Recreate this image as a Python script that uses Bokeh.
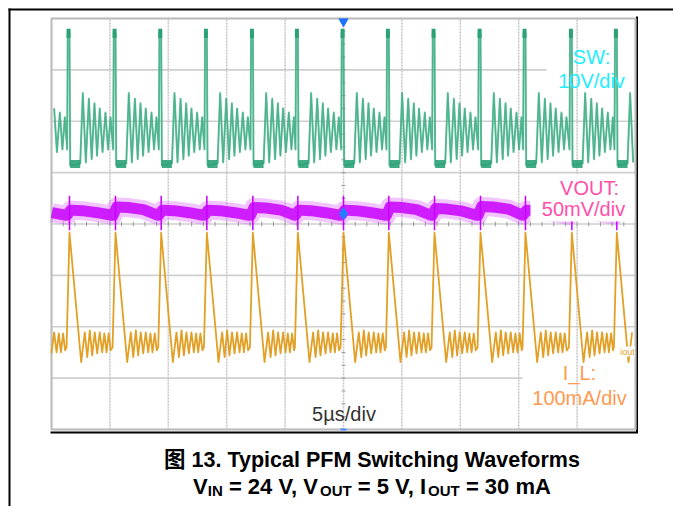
import numpy as np
from bokeh.plotting import figure
from bokeh.models import Range1d, Label
from bokeh.embed import file_html
from bokeh.resources import INLINE

# ---------------- data ----------------
# time of each SW switching pulse (µs, 0 = trigger / screen centre)
spike_times_us = [-23.66, -19.72, -15.81, -11.90, -7.96, -4.11, -0.20,
                  3.68, 7.59, 11.53, 15.38, 19.35, 23.20]
# SW (10 V/div) shape of one PFM cycle, relative to the pulse time
sw_dt = [0.00, 0.05, 0.20, 0.26, 1.12, 1.34, 1.60, 1.86, 2.10, 2.34,
         2.56, 2.79, 3.03, 3.28, 3.50, 3.71]
sw_div = [1.45, 3.72, 3.72, 1.14, 1.18, 2.55, 1.20, 2.44, 1.26, 2.35,
          1.33, 2.25, 1.40, 2.17, 1.45, 2.08]
sw_ground_div = 1.17
sw_top_div = [3.62, 3.80]
# I_L (100 mA/div) shape of one cycle
il_dt = [-0.05, 0.20, 1.20, 1.51, 1.72, 1.94, 2.14, 2.36, 2.57, 2.79,
         3.00, 3.19, 3.37, 3.56, 3.73]
il_div = [-2.40, -0.17, -2.69, -2.11, -2.59, -2.07, -2.56, -2.11, -2.52,
          -2.11, -2.50, -2.13, -2.50, -2.13, -2.46]
# VOUT (50 mV/div) ripple of one cycle (band centre)
vout_dt = [0.00, 0.30, 1.30, 2.60, 3.80]
vout_div = [0.17, 0.27, 0.26, 0.22, 0.17]
vout_bump_div = [0, 0, 0.06, 0, 0, 0.05, 0, 0, 0.06, 0.03, 0.07, 0, 0, 0]
vout_spike_div = [0.55, -0.12]
vout_marker_div = 0.20

time_ticks = list(range(-25, 26, 5))
div_ticks = list(range(-4, 5))
minor_time_ticks = list(range(-25, 26, 1))
minor_div_ticks = [v / 4 for v in range(-16, 17)]

labels_sw = ["SW:", "10V/div"]
labels_vout = ["VOUT:", "50mV/div"]
labels_il = ["I_L:", "100mA/div"]
time_label = "5µs/div"
caption1 = "图 13. Typical PFM Switching Waveforms"

# ---------------- layout helpers (page pixels -> data) ----------------
PX0, PX1 = 51, 635
PY0, PY1 = 18, 429


def X(px):
    return -25 + (px - PX0) * 50.0 / (PX1 - PX0)


def Y(py):
    return 4 - (py - PY0) * 8.0 / (PY1 - PY0)


T_END = X(633)

p = figure(width=673, height=506, output_backend="svg", toolbar_location=None,
           x_range=Range1d(X(0), X(673)), y_range=Range1d(Y(506), Y(0)),
           x_axis_location=None, y_axis_location=None, min_border=0,
           title=None)
p.grid.visible = False
p.outline_line_color = None
p.background_fill_color = "white"
p.border_fill_color = "white"

FONT = "Liberation Sans, Noto Sans CJK SC"

# outer page frame (top + left) and scope shadow (right + bottom)
p.segment(x0=[X(8), X(9)], y0=[Y(9), Y(8)], x1=[X(673), X(9)], y1=[Y(9), Y(506)],
          line_color="black", line_width=2)
p.segment(x0=[X(636.5), X(50)], y0=[Y(16), Y(432)], x1=[X(636.5), X(637.5)],
          y1=[Y(432), Y(432)], line_color="black", line_width=2)

# horizontal grid
p.segment(x0=[-25] * len(div_ticks), x1=[25] * len(div_ticks), y0=div_ticks,
          y1=div_ticks, line_color="#cfcfcf", line_width=1.6)
# white label boxes hiding grid
p.quad(left=[X(546), X(522)], right=[X(634), X(634)], top=[Y(38), Y(356)],
       bottom=[Y(100), Y(427)], fill_color="white", line_color=None)
# vertical grid (dotted)
p.segment(x0=time_ticks, x1=time_ticks, y0=[-4] * len(time_ticks),
          y1=[4] * len(time_ticks), line_color="#c8c8c8", line_width=1.6,
          line_dash="2 1")
# centre axes ticks
p.segment(x0=minor_time_ticks, x1=minor_time_ticks, y0=[-0.045] * len(minor_time_ticks),
          y1=[0.045] * len(minor_time_ticks), line_color="#9a9a9a", line_width=1)
p.segment(x0=[-0.17] * len(minor_div_ticks), x1=[0.17] * len(minor_div_ticks),
          y0=minor_div_ticks, y1=minor_div_ticks, line_color="#9a9a9a", line_width=1)
# screen border
p.quad(left=[-25], right=[25], bottom=[-4], top=[4], fill_color=None,
       line_color="#bdbdbd", line_width=2)

# ---------------- build traces from the per-cycle shapes ----------------
period = float(np.mean(np.diff(spike_times_us)))
starts = [spike_times_us[0] - period] + list(spike_times_us)


def build(dts, vals, bumps=None):
    xs, ys = [], []
    for k, s in enumerate(starts):
        for j, (dt, v) in enumerate(zip(dts, vals)):
            t = s + dt
            if bumps is not None and 0 < j < len(dts) - 1:
                v = v + bumps[k]
            if -25 <= t <= T_END:
                xs.append(t)
                ys.append(v)
    return xs, ys


sw_x, sw_y = build(sw_dt, sw_div)
il_x, il_y = build(il_dt, il_div)
vo_x, vo_y = build(vout_dt, vout_div, vout_bump_div)

# SW trace
p.line(sw_x, sw_y, line_color="#8fd3b6", line_width=1.2)
p.line(sw_x, sw_y, line_color="#2ea67a", line_width=2.0, line_alpha=0.7, line_join="round")
g0 = [s + sw_dt[3] for s in spike_times_us]
g1 = [min(s + sw_dt[4], T_END) for s in spike_times_us]
p.segment(x0=g0, x1=g1, y0=[sw_ground_div] * len(g0), y1=[sw_ground_div] * len(g0),
          line_color="#2ca278", line_width=8, line_alpha=0.9)
tx = [s + 0.12 for s in spike_times_us]
p.segment(x0=tx, x1=tx, y0=[sw_top_div[0]] * len(tx), y1=[sw_top_div[1]] * len(tx),
          line_color="#2aa274", line_width=4)

# I_L trace
p.line(il_x, il_y, line_color="#e2a026", line_width=1.8, line_join="round")

# VOUT trace (noisy band)
p.line(vo_x, vo_y, line_color="#d040ff", line_width=19, line_alpha=0.3, line_join="round")
p.line(vo_x, vo_y, line_color="#c800ff", line_width=11, line_alpha=0.85, line_join="round")
vx = [s + 0.2 for s in spike_times_us]
p.segment(x0=vx, x1=vx, y0=[vout_spike_div[0]] * len(vx), y1=[vout_spike_div[1]] * len(vx),
          line_color="#c800ff", line_width=1.5)
# VOUT label box covers the trace
p.quad(left=[X(530)], right=[X(634)], top=[Y(174)], bottom=[Y(221)],
       fill_color="white", line_color=None)

# markers
p.scatter(x=[0], y=[Y(21)], marker="inverted_triangle", size=9, color="#1f6fff")
p.scatter(x=[0], y=[vout_marker_div], marker="diamond", size=12, color="#1f7fff")
p.segment(x0=[X(340)], x1=[X(346)], y0=[Y(429)], y1=[Y(429)], line_color="#4a8cff",
          line_width=2)


# ---------------- texts ----------------
def lab(x, y, text, color, size="20px", style="normal", align="center", baseline="middle",
        bg=None):
    p.add_layout(Label(x=X(x), y=Y(y), text=text, text_color=color, text_font=FONT,
                       text_font_size=size, text_font_style=style, text_align=align,
                       text_baseline=baseline, background_fill_color=bg))


lab(591, 56, labels_sw[0], "#22eeff")
lab(591, 80, labels_sw[1], "#22eeff")
lab(589, 187, labels_vout[0], "#ff4faa")
lab(583, 208, labels_vout[1], "#ff4faa")
lab(579, 372, labels_il[0], "#ff9a50")
lab(579, 397, labels_il[1], "#ff9a50")
lab(343.5, 413, time_label, "#333333")
lab(627, 351, "iout", "#e2a026", size="9px", bg="white")

lab(371.5, 459, caption1, "black", size="21.5px", style="bold", baseline="alphabetic")

# second caption line with subscripts
pieces = [("V", False), ("IN", True), ("= 24 V, V", False), ("OUT", True),
          ("= 5 V, I", False), ("OUT", True), ("= 30 mA", False)]
piece_x = [192.6, 207.3, 228.4, 319.5, 357.3, 427.6, 465.4]
for (txt, sub), px in zip(pieces, piece_x):
    lab(px, 490 if sub else 486, txt, "black", size="15px" if sub else "22px",
        style="bold", align="left", baseline="alphabetic")

open("out.html", "w").write(file_html(p, INLINE))
